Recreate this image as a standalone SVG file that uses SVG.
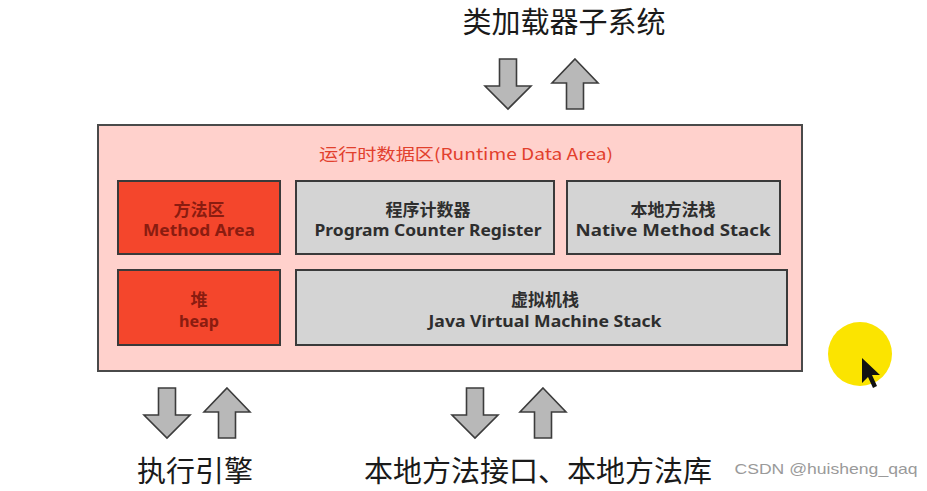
<svg xmlns="http://www.w3.org/2000/svg" xmlns:xlink="http://www.w3.org/1999/xlink" width="927" height="491" viewBox="0 0 927 491">
<style>
.big{font-family:"Noto Sans CJK SC","Noto Sans",sans-serif;font-size:29px;fill:#1a1a1a;text-anchor:middle;dominant-baseline:central}
.lbl{font-family:"Noto Sans","Noto Sans CJK SC",sans-serif;font-size:16px;font-weight:bold;text-anchor:middle;dominant-baseline:central}
.cjk{font-size:17px}
.red{fill:#f4462c;stroke:#3a3a3a;stroke-width:2}
.gray{fill:#d4d4d4;stroke:#3a3a3a;stroke-width:2}
.redt{fill:#8a1c10}
.grayt{fill:#2e2e2e}
.arr{fill:#b8b8b8;stroke:#3c3c3c;stroke-width:1.6;stroke-linejoin:miter}
</style>
<defs>
<polygon id="down" class="arr" points="-8.5,0 8.5,0 8.5,27 23,27 0,50 -23,27 -8.5,27"/>
<polygon id="up" class="arr" points="0,0 23,24 8.5,24 8.5,50 -8.5,50 -8.5,24 -23,24"/>
</defs>
<rect width="927" height="491" fill="#ffffff"/>
<g id="classloader">
<text class="big" x="564" y="20">类加载器子系统</text>
</g>
<g id="runtime-data-area">
<rect x="98" y="125" width="704" height="246" fill="#ffd1cc" stroke="#4a4a4a" stroke-width="2"/>
<text x="466" y="153" font-family="'Noto Sans CJK SC','Noto Sans',sans-serif" font-size="16" fill="#e2402c" text-anchor="middle" dominant-baseline="central" textLength="294" lengthAdjust="spacingAndGlyphs">运行时数据区(Runtime Data Area)</text>
</g>
<g id="method-area">
<rect class="red" x="118" y="181" width="162" height="73"/>
<text class="lbl cjk redt" x="199" y="209">方法区</text>
<text class="lbl redt" x="199" y="230" textLength="112" lengthAdjust="spacingAndGlyphs">Method Area</text>
</g>
<g id="program-counter">
<rect class="gray" x="296" y="181" width="258" height="73"/>
<text class="lbl cjk grayt" x="428" y="209">程序计数器</text>
<text class="lbl grayt" x="428" y="230" textLength="227" lengthAdjust="spacingAndGlyphs">Program Counter Register</text>
</g>
<g id="native-method-stack">
<rect class="gray" x="567" y="181" width="213" height="73"/>
<text class="lbl cjk grayt" x="673" y="209">本地方法栈</text>
<text class="lbl grayt" x="673" y="230" textLength="195" lengthAdjust="spacingAndGlyphs">Native Method Stack</text>
</g>
<g id="heap">
<rect class="red" x="118" y="270" width="162" height="75"/>
<text class="lbl cjk redt" x="199" y="299">堆</text>
<text class="lbl redt" x="199" y="321" textLength="40" lengthAdjust="spacingAndGlyphs">heap</text>
</g>
<g id="jvm-stack">
<rect class="gray" x="296" y="270" width="491" height="75"/>
<text class="lbl cjk grayt" x="545" y="299">虚拟机栈</text>
<text class="lbl grayt" x="545" y="321" textLength="233" lengthAdjust="spacingAndGlyphs">Java Virtual Machine Stack</text>
</g>
<g id="execution-engine">
<text class="big" x="195" y="469">执行引擎</text>
</g>
<g id="native-interface">
<text class="big" x="538" y="469">本地方法接口、本地方法库</text>
</g>
<g id="connectors">
<use xlink:href="#down" x="508" y="59"/>
<use xlink:href="#up" x="575" y="59"/>
<use xlink:href="#down" x="167" y="388"/>
<use xlink:href="#up" x="227" y="388"/>
<use xlink:href="#down" x="475" y="388"/>
<use xlink:href="#up" x="543" y="388"/>
</g>
<g id="cursor">
<circle cx="860" cy="354" r="32" fill="#fbe400"/>
<polygon points="862,358 862,383 868,377 873,388 877,386 872,375 880,375" fill="#111"/>
</g>
<text x="826" y="468" font-family="'Liberation Sans',sans-serif" font-size="15" fill="#9a9a9a" text-anchor="middle" dominant-baseline="central" textLength="183" lengthAdjust="spacingAndGlyphs">CSDN @huisheng_qaq</text>
</svg>
